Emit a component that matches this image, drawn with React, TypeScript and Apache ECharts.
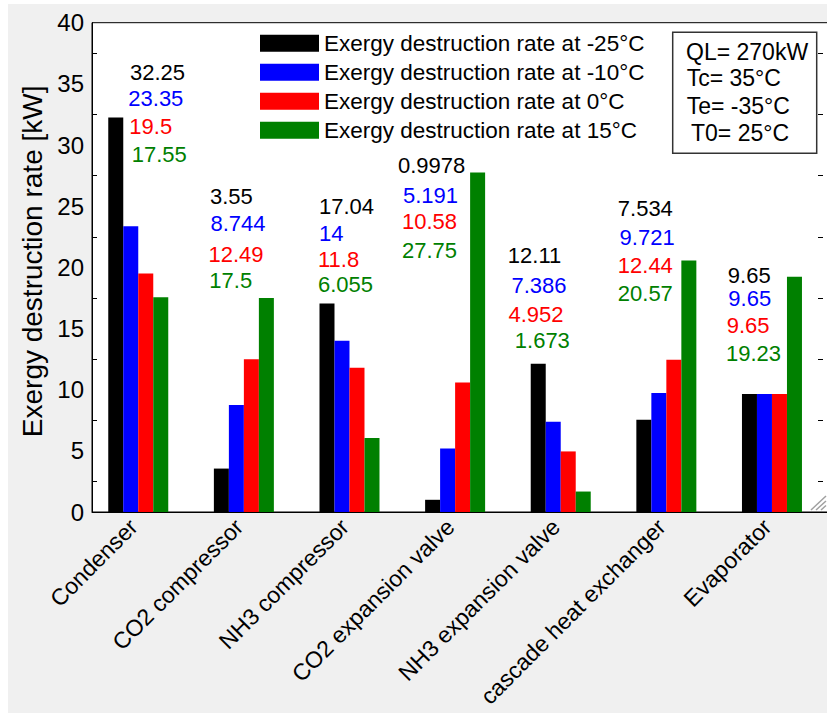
import React, { useEffect, useRef } from "react";
import * as echarts from "echarts";

// ---------- data ----------
const categories = [
  "Condenser",
  "CO2 compressor",
  "NH3 compressor",
  "CO2 expansion valve",
  "NH3 expansion valve",
  "cascade heat exchanger",
  "Evaporator",
];
const seriesNames = [
  "Exergy destruction rate at -25°C",
  "Exergy destruction rate at -10°C",
  "Exergy destruction rate at 0°C",
  "Exergy destruction rate at 15°C",
];
const valuesM25 = [32.25, 3.55, 17.04, 0.9978, 12.11, 7.534, 9.65];
const valuesM10 = [23.35, 8.744, 14, 5.191, 7.386, 9.721, 9.65];
const values0 = [19.5, 12.49, 11.8, 10.58, 4.952, 12.44, 9.65];
const values15 = [17.55, 17.5, 6.055, 27.75, 1.673, 20.57, 19.23];
const yTickValues = [0, 5, 10, 15, 20, 25, 30, 35, 40];
const infoLines = ["QL= 270kW", "Tc= 35°C", "Te= -35°C", "T0= 25°C"];
const yAxisTitle = "Exergy destruction rate [kW]";

// ---------- styles / layout ----------
const colors = ["#000000", "#0000ff", "#ff0000", "#008000"];
const FONT = '"Liberation Sans", Arial, sans-serif';
const OX = 8;
const OY = 4;
const LABEL_SHIFT = -0.045; // category label anchor offset (in category units)
// annotation text layout (page pixels): left x per category, centre y per series
const annotX = [130, 210, 318.5, 399, 509, 618, 727.5];
const annotY = [
  [72.5, 98.3, 126.5, 154.7],
  [196.7, 223.3, 254.3, 280],
  [206, 233, 259.3, 284.3],
  [165.7, 195, 221.7, 250.3],
  [255.3, 285.5, 314.3, 340],
  [208, 237.3, 265.7, 293.3],
  [275, 298.3, 325, 353.3],
];
const annotDX = [
  [0, -1.7, -0.7, 1.7],
  [0, 0.5, -1.5, -0.7],
  [0.5, 0.5, -0.5, -0.5],
  [-1, 4, 3, 3],
  [-1.2, 2.5, -0.5, 5.8],
  [-0.2, 1.6, -0.2, -0.2],
  [0.3, 0.8, -0.8, -1.5],
];
const infoX = [678, 678.7, 678.7, 683];
const infoY = [47.7, 74.3, 102, 128.7];

export default function App() {
  const ref = useRef<HTMLDivElement>(null);

  useEffect(() => {
    if (!ref.current) return;
    const chart = echarts.init(ref.current, undefined, { renderer: "svg" });
    const allValues = [valuesM25, valuesM10, values0, values15];

    const graphic: any[] = [];
    categories.forEach((_, ci) => {
      allValues.forEach((vals, si) => {
        graphic.push({
          type: "text",
          x: annotX[ci] + annotDX[ci][si] - OX,
          y: annotY[ci][si] - OY,
          silent: true,
          style: {
            text: String(vals[ci]),
            fill: colors[si],
            fontSize: 22,
            fontFamily: FONT,
            align: "left",
            verticalAlign: "middle",
          },
        });
      });
    });
    graphic.push({
      type: "rect",
      shape: { x: 672.7 - OX, y: 32.3 - OY, width: 144, height: 121 },
      style: { fill: "#ffffff", stroke: "#333333", lineWidth: 1.5 },
      silent: true,
    });
    infoLines.forEach((t, i) => {
      graphic.push({
        type: "text",
        x: infoX[i],
        y: infoY[i],
        silent: true,
        style: {
          text: t,
          fill: "#000",
          fontSize: 23,
          fontFamily: FONT,
          align: "left",
          verticalAlign: "middle",
        },
      });
    });
    // resize grip hatch
    [
      [811, 510, 826, 496],
      [816, 510, 826, 501],
      [821, 510, 826, 505.5],
    ].forEach(([x1, y1, x2, y2]) => {
      graphic.push({
        type: "line",
        shape: { x1: x1 - OX, y1: y1 - OY, x2: x2 - OX, y2: y2 - OY },
        style: { stroke: "#a0a0a0", lineWidth: 1.5 },
        silent: true,
      });
    });

    const option: any = {
      animation: false,
      backgroundColor: "#f0f0f0",
      textStyle: { fontFamily: FONT },
      grid: {
        left: 84,
        top: 18.7,
        right: -2,
        bottom: 201,
        show: true,
        backgroundColor: "#ffffff",
        borderColor: "#000000",
        borderWidth: 1,
        containLabel: false,
        outerBoundsMode: "none",
      },
      legend: {
        orient: "vertical",
        left: 247,
        top: 22.8,
        itemWidth: 59,
        itemHeight: 17,
        itemGap: 6,
        icon: "rect",
        selectedMode: false,
        data: seriesNames,
        textStyle: { fontSize: 22.5, color: "#000", lineHeight: 22, fontFamily: FONT },
      },
      xAxis: {
        type: "value",
        min: -0.438,
        max: 6.54,
        axisLine: { show: true, onZero: false, lineStyle: { color: "#000", width: 1 } },
        axisTick: { show: false },
        splitLine: { show: false },
        axisLabel: {
          customValues: categories.map((_, i) => i + LABEL_SHIFT),
          formatter: (v: number) => categories[Math.round(v)] ?? "",
          rotate: 45,
          fontSize: 23,
          color: "#000",
          margin: 11,
          fontFamily: FONT,
        },
      },
      yAxis: [
        {
          type: "value",
          min: yTickValues[0],
          max: yTickValues[yTickValues.length - 1],
          interval: 5,
          position: "left",
          name: yAxisTitle,
          nameLocation: "middle",
          nameGap: 46,
          nameTextStyle: { fontSize: 28, color: "#000", padding: [0, 0, 0, 12], fontFamily: FONT },
          axisLine: { show: true, onZero: false, lineStyle: { color: "#000", width: 1 } },
          axisTick: { show: false, inside: true },
          minorTick: { show: true, splitNumber: 2, length: 5, lineStyle: { color: "#000", width: 1 } },
          axisLabel: { fontSize: 24, color: "#000", margin: 8, fontFamily: FONT },
          splitLine: { show: false },
        },
        {
          type: "value",
          min: yTickValues[0],
          max: yTickValues[yTickValues.length - 1],
          interval: 5,
          position: "right",
          offset: -6,
          axisLine: { show: false, onZero: false },
          axisTick: { show: false, inside: true },
          minorTick: { show: true, splitNumber: 2, length: 5, lineStyle: { color: "#000", width: 1 } },
          axisLabel: { show: false },
          splitLine: { show: false },
        },
      ],
      series: allValues.map((vals, si) => ({
        name: seriesNames[si],
        type: "bar",
        xAxisIndex: 0,
        yAxisIndex: 0,
        barWidth: 15,
        barGap: "0%",
        itemStyle: { color: colors[si] },
        data: vals.map((v, i) => [i, v]),
      })),
      graphic,
    };
    chart.setOption(option);
    return () => chart.dispose();
  }, []);

  return (
    <div
      ref={ref}
      style={{ position: "fixed", left: OX, top: OY, width: 819, height: 709 }}
    />
  );
}
